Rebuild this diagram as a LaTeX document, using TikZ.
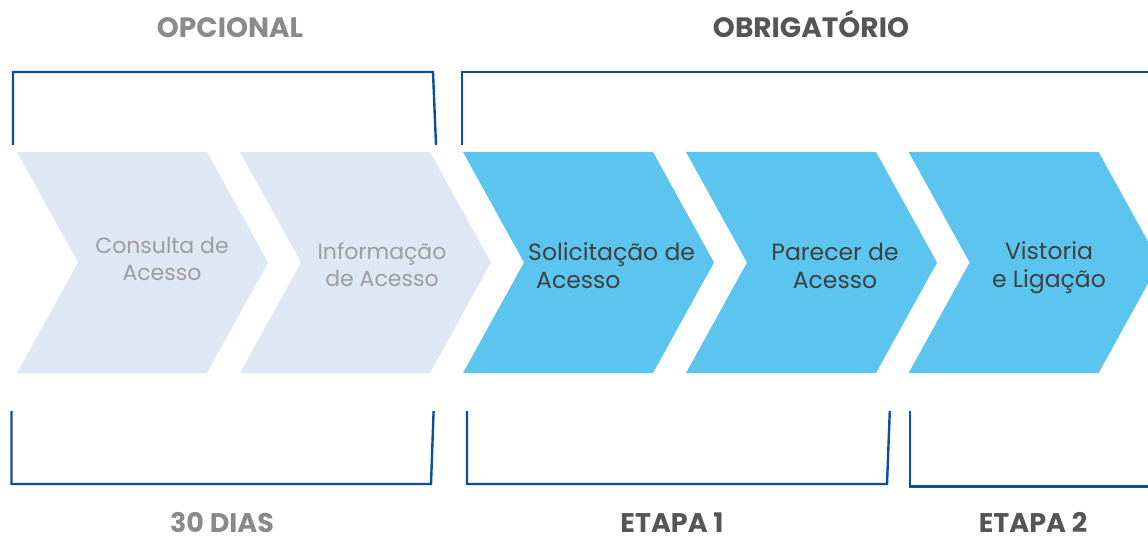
\documentclass[tikz,border=0pt]{standalone}
\usepackage{fontspec}
\setmainfont{Poppins}
\definecolor{chevlight}{HTML}{DDE8F4}
\definecolor{chevblue}{HTML}{5BC5F0}
\definecolor{brk}{HTML}{0B4E9A}
\definecolor{txtlight}{HTML}{9E9E9E}
\definecolor{txtdark}{HTML}{404040}
\definecolor{headlight}{HTML}{8A8A8A}
\definecolor{headdark}{HTML}{555555}
\tikzset{
  bracketline/.style={draw=brk, line width=2.4pt, line join=miter},
  chevtxt/.style={font=\fontsize{22}{27}\selectfont, align=center, inner sep=0pt},
  chevtxtd/.style={font=\fontsize{23.5}{28}\selectfont, align=center, inner sep=0pt},
  headtxt/.style={font=\fontsize{28}{30}\selectfont\bfseries, inner sep=0pt, anchor=base},
  foottxt/.style={font=\fontsize{27}{30}\selectfont\bfseries, inner sep=0pt, anchor=base},
}
\begin{document}
\begin{tikzpicture}[x=1pt,y=-1pt]
\useasboundingbox (0,0) rectangle (1148,540);
\clip (0,0) rectangle (1148,540);
% chevrons
\foreach \x/\c in {17/chevlight,240/chevlight,463/chevblue,686/chevblue,908.6/chevblue}{
  \fill[\c] (\x,152) -- ++(190,0) -- ++(61,110.5) -- ++(-61,110.5) -- ++(-190,0) -- ++(61,-110.5) -- cycle;
}
% brackets
\draw[bracketline] (13,145) -- (13,72) -- (433,72) -- (436,145);
\draw[bracketline] (462,145) -- (462,72) -- (1160,72);
\draw[bracketline] (11.5,411) -- (11.5,484) -- (431,484) -- (433.6,411);
\draw[bracketline] (467,411) -- (467,484) -- (887,484) -- (889.8,411);
\draw[bracketline] (909.7,411) -- (909.7,486.5) -- (1160,486.5);
% chevron texts
\node[chevtxt, text=txtlight] (t1) at (162,259) {Consulta de\\Acesso};
\node[chevtxt, text=txtlight] (t2) at (382,265) {Informação\\de Acesso};
\node[chevtxtd, text=txtdark, align=left, anchor=west] (t3) at (528,266) {Solicitação de\\\hspace*{8pt}Acesso};
\node[chevtxtd, text=txtdark] (t4) at (835,266) {Parecer de\\Acesso};
\node[chevtxtd, text=txtdark] (t5) at (1049,268) {Vistoria\\e Ligação};
% headings
\node[headtxt, text=headlight] (h1) at (230,38) {OPCIONAL};
\node[headtxt, text=headdark] (h2) at (811,38) {OBRIGATÓRIO};
\node[foottxt, text=headlight] (b1) at (222,532) {30 DIAS};
\node[foottxt, text=headdark] (b2) at (672,532) {ETAPA 1};
\node[foottxt, text=headdark] (b3) at (1033,532) {ETAPA 2};
\end{tikzpicture}
\end{document}
